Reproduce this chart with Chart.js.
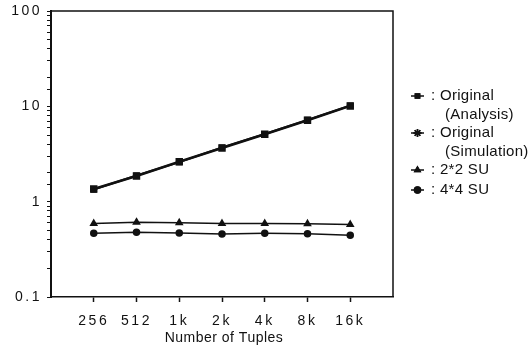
<!DOCTYPE html>
<html>
<head>
<meta charset="utf-8">
<script src="https://cdn.jsdelivr.net/npm/chart.js@4/dist/chart.umd.min.js"></script>
<style>
    html, body { margin: 0; padding: 0; background: #fff; }
    #wrap { width: 532px; height: 354px; position: relative; }
</style>
</head>
<body>
<div id="wrap"><canvas id="chart"></canvas></div>
<script>
// categories (number of tuples)
const tupleLabels = ["256", "512", "1k", "2k", "4k", "8k", "16k"];
// series values (log scale)
const originalAnalysis = [1.36, 1.86, 2.62, 3.65, 5.1, 7.15, 10.1];
const originalSimulation = [1.34, 1.88, 2.6, 3.7, 5.12, 7.2, 10.2];
const su22 = [0.59, 0.61, 0.6, 0.59, 0.59, 0.585, 0.575];
const su44 = [0.465, 0.477, 0.47, 0.458, 0.465, 0.462, 0.445];
// y tick labels shown
const yTickLabels = [0.1, 1, 10, 100];
const xTitle = "Number of Tuples";

const legendItems = [
    { lines: [": Original", "(Analysis)"], marker: "rect" },
    { lines: [": Original", "(Simulation)"], marker: "star" },
    { lines: [": 2*2 SU"], marker: "triangle" },
    { lines: [": 4*4 SU"], marker: "circle" },
];

const FONT = "'Liberation Sans', Arial, sans-serif";

function toPoints(values) {
    return values.map((v, i) => ({ x: i, y: v }));
}

// wide tracking for the tick numbers, like the scanned figure
const tickSpacing = {
    id: "tickSpacing",
    beforeDraw(chart) {
        chart.ctx.letterSpacing = "2.5px";
    },
    beforeDatasetsDraw(chart) {
        chart.ctx.letterSpacing = "0px";
    },
};

// draws the box around the plot, the axis title and the legend at the right
const boxAndLegend = {
    id: "boxAndLegend",
    afterDraw(chart) {
        const ctx = chart.ctx;
        const a = chart.chartArea;
        ctx.save();
        ctx.strokeStyle = "#111";
        ctx.lineWidth = 1.5;
        ctx.beginPath();
        ctx.moveTo(a.left, a.top);
        ctx.lineTo(a.right, a.top);
        ctx.lineTo(a.right, a.bottom);
        ctx.stroke();

        ctx.fillStyle = "#111";
        ctx.textBaseline = "middle";
        ctx.letterSpacing = "0.5px";
        ctx.font = "14px " + FONT;
        ctx.textAlign = "center";
        ctx.fillText(xTitle, (a.left + a.right) / 2 + 2, 338);

        ctx.textAlign = "left";
        ctx.font = "15px " + FONT;
        ctx.letterSpacing = "0.3px";
        let y = 96;
        legendItems.forEach((item) => {
            // small line with marker
            ctx.lineWidth = 1.5;
            ctx.beginPath();
            ctx.moveTo(411, y);
            ctx.lineTo(424, y);
            ctx.stroke();
            let r = item.marker === "star" ? 4 : 3;
            Chart.helpers.drawPoint(ctx, { pointStyle: item.marker, radius: r, borderWidth: 1.5 }, 417.5, y);
            ctx.fill();
            ctx.stroke();
            item.lines.forEach((txt, k) => {
                let x = k === 0 ? 431 : 445;
                ctx.fillText(txt, x, y + k * 19);
            });
            y += item.lines.length === 2 ? 37 : 20;
        });
        ctx.restore();
    },
};

const ctx = document.getElementById("chart");
new Chart(ctx, {
    type: "line",
    data: {
        datasets: [
            {
                label: "Original (Analysis)",
                data: toPoints(originalAnalysis),
                borderColor: "#111",
                backgroundColor: "#111",
                borderWidth: 2.5,
                pointStyle: "rect",
                pointRadius: 3.5,
            },
            {
                label: "Original (Simulation)",
                data: toPoints(originalSimulation),
                borderColor: "#111",
                backgroundColor: "#111",
                borderWidth: 2,
                pointStyle: "rect",
                pointRadius: 3,
            },
            {
                label: "2*2 SU",
                data: toPoints(su22),
                borderColor: "#111",
                backgroundColor: "#111",
                borderWidth: 1.5,
                pointStyle: "triangle",
                pointRadius: 3.5,
            },
            {
                label: "4*4 SU",
                data: toPoints(su44),
                borderColor: "#111",
                backgroundColor: "#111",
                borderWidth: 1.5,
                pointStyle: "circle",
                pointRadius: 3,
            },
        ],
    },
    options: {
        responsive: true,
        maintainAspectRatio: false,
        animation: false,
        layout: { padding: { left: 0, right: 139, top: 11, bottom: 0 } },
        plugins: {
            legend: { display: false },
            tooltip: { enabled: false },
        },
        scales: {
            x: {
                type: "linear",
                min: -1,
                max: 7,
                afterBuildTicks(scale) {
                    scale.ticks = tupleLabels.map((_, i) => ({ value: i }));
                },
                afterFit(scale) {
                    scale.height = 57;
                    scale.paddingLeft = 0;
                    scale.paddingRight = 0;
                },
                ticks: {
                    color: "#111",
                    font: { family: FONT, size: 14 },
                    padding: 11,
                    maxRotation: 0,
                    callback: (v) => tupleLabels[v],
                },
                grid: {
                    drawOnChartArea: false,
                    tickLength: 5,
                    color: "#111",
                    tickWidth: 1.5,
                },
                border: { color: "#111", width: 1.5 },
            },
            y: {
                type: "logarithmic",
                min: 0.1,
                max: 100,
                afterFit(scale) {
                    scale.width = 51;
                    scale.paddingTop = 0;
                    scale.paddingBottom = 0;
                },
                ticks: {
                    color: "#111",
                    font: { family: FONT, size: 14 },
                    padding: 5,
                    autoSkip: false,
                    callback: (v) => (yTickLabels.includes(Number(v.toPrecision(3))) ? String(Number(v.toPrecision(3))) : ""),
                },
                grid: {
                    drawOnChartArea: false,
                    tickLength: 4,
                    color: "#111",
                    tickWidth: 1,
                },
                border: { color: "#111", width: 2 },
            },
        },
    },
    plugins: [tickSpacing, boxAndLegend],
});
</script>
</body>
</html>
